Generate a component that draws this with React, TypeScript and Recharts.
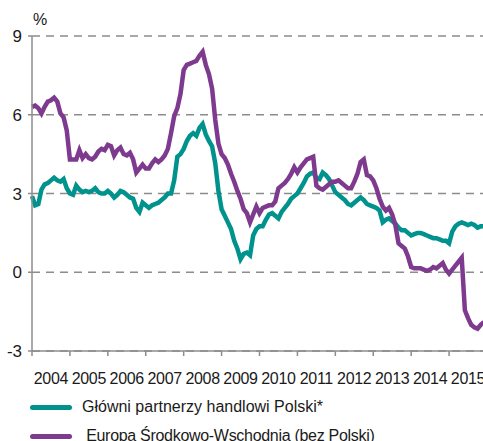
import React from 'react';
import { LineChart, Line, XAxis, YAxis, CartesianGrid } from 'recharts';

// monthly values, Jan 2004 onwards (%, y/y)
const START_YEAR = 2004;
const YEARS = [2004, 2005, 2006, 2007, 2008, 2009, 2010, 2011, 2012, 2013, 2014, 2015];
const Y_TICKS = [-3, 0, 3, 6, 9];

const partners = [
  2.9, 2.55, 2.6, 3.15, 3.35, 3.4, 3.5, 3.6, 3.5, 3.45, 3.55, 3.2,
  3.0, 2.95, 3.3, 3.15, 3.05, 3.1, 3.05, 3.1, 3.2, 3.05, 3.0, 3.0,
  3.1, 3.0, 2.85, 2.95, 3.1, 3.05, 2.95, 2.85, 2.8, 2.45, 2.3, 2.65,
  2.55, 2.45, 2.55, 2.6, 2.65, 2.75, 2.85, 3.0, 3.0, 3.5, 4.4, 4.5,
  4.7, 5.0, 5.2, 5.3, 5.2, 5.5, 5.65, 5.25, 5.0, 4.8, 4.15, 3.1,
  2.4, 2.15, 1.9, 1.65, 1.2, 0.9, 0.5, 0.7, 0.75, 0.65, 1.4, 1.65,
  1.75, 1.75, 2.0, 2.2, 2.25, 2.15, 2.05, 2.3, 2.45, 2.6, 2.8, 2.9,
  3.0, 3.2, 3.4, 3.65, 3.75, 3.8, 3.6, 3.55, 3.8, 3.7, 3.55, 3.3,
  3.05, 2.95, 2.85, 2.75, 2.6, 2.55, 2.65, 2.75, 2.85, 2.75, 2.6, 2.55,
  2.5, 2.45, 2.35, 1.9, 2.0, 2.05, 1.95, 1.85, 1.7, 1.6, 1.6, 1.5,
  1.4, 1.45, 1.5, 1.5, 1.45, 1.4, 1.35, 1.3, 1.3, 1.25, 1.2, 1.2,
  1.1, 1.55, 1.75, 1.85, 1.9, 1.85, 1.8, 1.85, 1.8, 1.7, 1.75, 1.75,
];

const cee = [
  6.3, 6.35, 6.25, 6.05, 6.3, 6.5, 6.55, 6.65, 6.5, 6.05, 5.9, 5.4,
  4.3, 4.3, 4.3, 4.65, 4.35, 4.5, 4.35, 4.3, 4.4, 4.6, 4.7, 4.65,
  4.85, 4.8, 4.45, 4.65, 4.75, 4.5, 4.45, 4.55, 4.3, 3.8, 3.95, 4.1,
  3.95, 3.95, 4.15, 4.3, 4.2, 4.3, 4.45, 4.7, 5.3, 5.95, 6.25, 6.8,
  7.7, 7.9, 7.95, 8.0, 8.05, 8.25, 8.4, 7.9, 7.55, 7.0, 5.8, 4.9,
  4.5, 4.35, 4.1, 3.75, 3.45, 3.1, 2.8, 2.4, 2.25, 1.9, 2.2, 2.5,
  2.25, 2.45, 2.5, 2.55, 2.55, 2.7, 3.2, 3.3, 3.4, 3.55, 3.75, 4.0,
  3.8, 4.0, 4.15, 4.3, 4.35, 4.4, 3.3, 3.2, 3.15, 3.25, 3.35, 3.45,
  3.45, 3.5, 3.4, 3.3, 3.2, 3.2, 3.45, 3.75, 4.2, 4.3, 3.7, 3.65,
  3.5, 3.2, 2.8, 2.5, 2.35, 2.45, 2.2, 1.8, 1.1, 1.0, 0.9, 0.6,
  0.2, 0.15, 0.15, 0.15, 0.1, 0.05, 0.1, 0.2, 0.15, 0.25, 0.35, 0.1,
  -0.05, 0.1, 0.25, 0.4, 0.55, -1.45, -1.75, -2.0, -2.1, -2.15, -2.0, -1.9,
];

const TEAL = '#00928c';
const PURPLE = '#7e3a8e';
const GRID = '#8c8c8c';
const TEXT = '#1a1a1a';

const CHART_W = 490;
const PLOT_W = 455; // 12 years wide
const HALF_YEAR = PLOT_W / 12 / 2;

const data = partners.map((v, i) => ({
  t: START_YEAR + i / 12,
  partners: v,
  cee: cee[i],
}));

// year label sits in the middle of its year, tick mark on the boundary
const YearTick = ({ x, y, payload }: any) => (
  <text
    x={x + HALF_YEAR}
    y={y}
    dy="0.71em"
    textAnchor="middle"
    fontSize={16}
    letterSpacing={-0.3}
    fill={TEXT}
  >
    {payload.value}
  </text>
);

const LegendRow = ({ color, label, top, textLeft, spacing }: any) => (
  <div style={{ position: 'absolute', left: 0, top, width: 483, height: 24 }}>
    <div
      style={{
        position: 'absolute',
        left: 30,
        top: 9,
        width: 42,
        height: 5,
        borderRadius: 3,
        background: color,
      }}
    />
    <span
      style={{
        position: 'absolute',
        left: textLeft,
        top: 2,
        fontSize: 16,
        lineHeight: '18px',
        letterSpacing: spacing,
        color: TEXT,
        whiteSpace: 'pre',
      }}
    >
      {label}
    </span>
  </div>
);

export default function App() {
  return (
    <div
      style={{
        position: 'absolute',
        left: 0,
        top: 0,
        width: 483,
        height: 441,
        overflow: 'hidden',
        background: '#fff',
        fontFamily: '"Liberation Sans", Arial, sans-serif',
      }}
    >
      <span
        style={{ position: 'absolute', left: 33, top: 11, fontSize: 16, color: TEXT }}
      >
        %
      </span>
      <LineChart
        width={CHART_W}
        height={400}
        data={data}
        margin={{ top: 36, right: 3, left: 0, bottom: 9 }}
        style={{ fontFamily: '"Liberation Sans", Arial, sans-serif' }}
      >
        <CartesianGrid
          vertical={false}
          stroke={GRID}
          strokeWidth={1.5}
          strokeDasharray="8 6"
        />
        <XAxis
          dataKey="t"
          type="number"
          domain={[2004, 2016]}
          ticks={YEARS}
          interval={0}
          height={40}
          stroke={GRID}
          strokeWidth={1.5}
          tickSize={5}
          tickMargin={17}
          tick={<YearTick />}
        />
        <YAxis
          domain={[-3, 9]}
          ticks={Y_TICKS}
          width={32}
          stroke={GRID}
          strokeWidth={1.5}
          tickSize={4}
          tickMargin={6}
          tick={{ fontSize: 17, fill: TEXT }}
        />
        <Line
          type="linear"
          dataKey="partners"
          stroke={TEAL}
          strokeWidth={4.5}
          dot={false}
          isAnimationActive={false}
        />
        <Line
          type="linear"
          dataKey="cee"
          stroke={PURPLE}
          strokeWidth={4.5}
          dot={false}
          isAnimationActive={false}
        />
      </LineChart>
      <LegendRow color={TEAL} label="Główni partnerzy handlowi Polski*" top={396} textLeft={82} spacing={0} />
      <LegendRow color={PURPLE} label=" Europa Środkowo-Wschodnia (bez Polski)" top={425} textLeft={82} spacing={-0.3} />
    </div>
  );
}
